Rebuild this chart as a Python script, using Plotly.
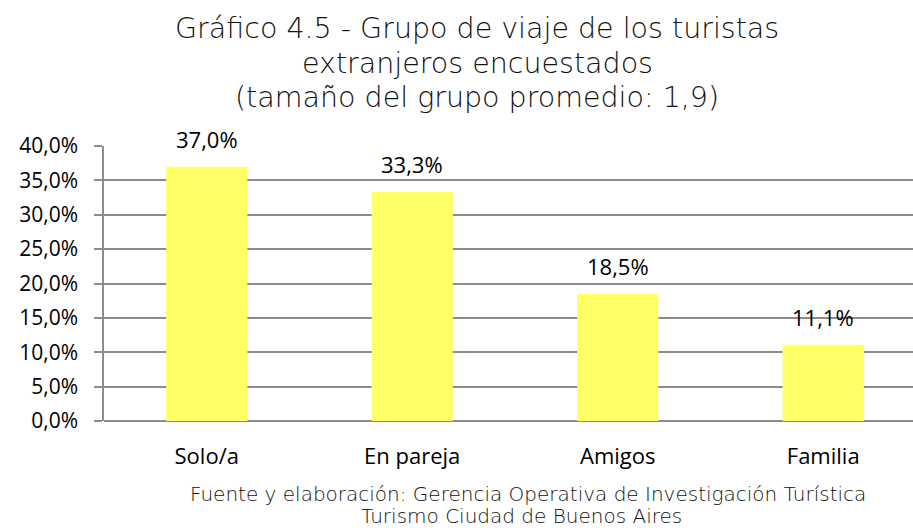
import plotly.graph_objects as go

categories = ["Solo/a", "En pareja", "Amigos", "Familia"]
values = [37.0, 33.3, 18.5, 11.1]
value_labels = ["37,0%", "33,3%", "18,5%", "11,1%"]
y_ticks = [0, 5, 10, 15, 20, 25, 30, 35, 40]
y_tick_labels = ["0,0%", "5,0%", "10,0%", "15,0%", "20,0%", "25,0%", "30,0%", "35,0%", "40,0%"]

title_lines = ["Gráfico 4.5 - Grupo de viaje de los turistas",
               "extranjeros encuestados",
               "(tamaño del grupo promedio: 1,9)"]
footer_lines = ["Fuente y elaboración: Gerencia Operativa de Investigación Turística",
                "Turismo Ciudad de Buenos Aires"]

W, H = 913, 528
grid = "#8c8c8c"
tick_font = "Open Sans"
light_font = "DejaVu Sans"

xs = list(range(len(categories)))
fig = go.Figure(go.Bar(
    x=xs, y=values,
    width=0.395,
    marker=dict(color="#FFFF66", line=dict(width=0)),
    hoverinfo="skip",
))

for xv, yv, lab in zip(xs, values, value_labels):
    fig.add_annotation(x=xv, y=yv, text=lab, showarrow=False,
                       xanchor="center", yanchor="middle", yshift=28,
                       font=dict(family=tick_font, size=22, color="#000000"))

fig.update_layout(
    width=W, height=H,
    margin=dict(l=104, r=0, t=146, b=107),
    paper_bgcolor="white", plot_bgcolor="white",
    showlegend=False,
    xaxis=dict(
        range=[-0.5, 3.437],
        tickmode="array", tickvals=xs, ticktext=categories,
        showgrid=False, zeroline=False, showline=False, ticks="",
        tickfont=dict(family=tick_font, size=22, color="#000000"),
        ticklabelstandoff=20,
    ),
    yaxis=dict(
        range=[0, 40], tickmode="array", tickvals=y_ticks, ticktext=y_tick_labels,
        showgrid=True, gridcolor=grid, gridwidth=1.5,
        zeroline=True, zerolinecolor=grid, zerolinewidth=2,
        showline=True, linecolor=grid, linewidth=1.5,
        ticks="outside", ticklen=8, tickcolor=grid, tickwidth=1.5,
        tickfont=dict(family=tick_font, size=21, color="#000000"),
        ticklabelstandoff=12,
    ),
)

title_y = [29, 63, 97]
for line, yy in zip(title_lines, title_y):
    fig.add_annotation(text=line, xref="paper", yref="paper",
                       x=(477 - 104) / (W - 104), y=1 + (146 - yy) / (H - 146 - 107),
                       xanchor="center", yanchor="middle", showarrow=False,
                       font=dict(family=light_font, size=28.5, color="#111111", weight=200))

footer_y = [494, 516]
footer_x = [528, 521]
for line, yy, xx in zip(footer_lines, footer_y, footer_x):
    fig.add_annotation(text=line, xref="paper", yref="paper",
                       x=(xx - 104) / (W - 104), y=-(yy - (H - 107)) / (H - 146 - 107),
                       xanchor="center", yanchor="middle", showarrow=False,
                       font=dict(family=light_font, size=20, color="#111111", weight=200))

fig.write_html("out.html", config={"displayModeBar": False},
               post_script="document.body.style.margin='0';")
